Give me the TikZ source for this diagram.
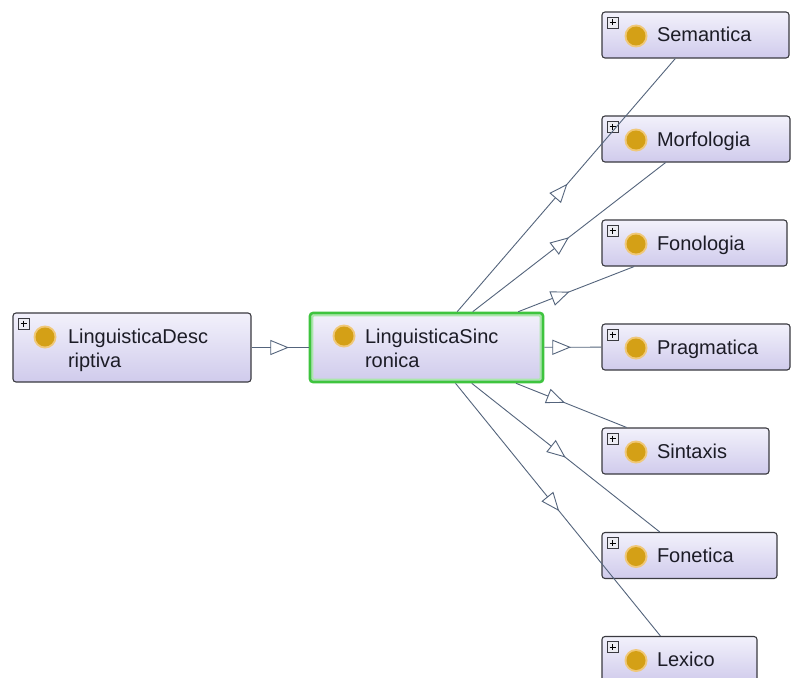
\documentclass[tikz,border=0pt]{standalone}
\usepackage{fontspec}
\setmainfont{Liberation Sans}
\usetikzlibrary{decorations.markings}

\definecolor{boxline}{RGB}{58,58,64}
\definecolor{boxtop}{RGB}{242,241,251}
\definecolor{boxbot}{RGB}{208,203,236}
\definecolor{focusline}{RGB}{62,196,62}
\definecolor{focusglow}{RGB}{170,232,170}
\definecolor{edgecol}{RGB}{84,100,124}
\definecolor{dotcore}{RGB}{212,160,22}
\definecolor{dotglow}{RGB}{240,200,120}
\definecolor{txt}{RGB}{28,28,38}
\definecolor{plusfill}{RGB}{236,236,242}

% single-line label, text begins 55pt from the left border
\newcommand\clsone[2]{\hbox to #1{\hskip55pt\raisebox{0pt}[14pt][0pt]{#2}\hfil}}
% two-line label, first baseline 4.5pt below the node centre
\newcommand\clstwo[3]{\hbox to #1{\hskip55pt\raisebox{0pt}[14pt][23pt]{\begin{tabular}[t]{@{}l@{}}#2\\#3\end{tabular}}\hfil}}

% the class icon: a gold disc with a soft rim
\newcommand\classdot[1]{%
  \fill[dotglow] #1 circle (11.5pt);
  \fill[dotcore] #1 circle (9.5pt);}
% the expand marker in the top left corner
\newcommand\plusmark{%
  \draw[boxline, fill=plusfill, line width=0.6pt, rounded corners=0pt]
    ([shift={(5pt,-5pt)}]path picture bounding box.north west) rectangle ++(11pt,-11pt);
  \draw[black, line width=1pt]
    ([shift={(7.5pt,-10.5pt)}]path picture bounding box.north west) -- ++(6pt,0pt)
    ([shift={(10.5pt,-7.5pt)}]path picture bounding box.north west) -- ++(0pt,-6pt);}

\tikzset{
  classbase/.style={rectangle, rounded corners=3pt, draw=boxline, line width=1.1pt,
    top color=boxtop, bottom color=boxbot, inner sep=0pt, text=txt,
    font=\fontsize{20}{24}\selectfont},
  leafbox/.style={classbase, minimum height=46pt,
    path picture={
      \classdot{([shift={(34pt,-1pt)}]path picture bounding box.west)}
      \plusmark}},
  parentbox/.style={classbase, minimum height=69pt,
    path picture={
      \classdot{([shift={(32pt,10.5pt)}]path picture bounding box.west)}
      \plusmark}},
  focusbox/.style={classbase, minimum height=69pt, draw=focusline, line width=2.6pt,
    path picture={
      \draw[focusglow, line width=2pt, rounded corners=2pt]
        ([shift={(2.3pt,-2.3pt)}]path picture bounding box.north west)
        rectangle ([shift={(-2.3pt,2.3pt)}]path picture bounding box.south east);
      \classdot{([shift={(34pt,11.5pt)}]path picture bounding box.west)}}},
  edge/.style={draw=edgecol, line width=0.9pt},
  subarrow/.style={decoration={markings, mark=at position 0.5 with {
      \draw[edgecol, line width=0.9pt, fill=white, line join=miter]
        (8.5pt,0pt) -- (-8.5pt,7pt) -- (-8.5pt,-7pt) -- cycle;}},
    decorate},
}

\begin{document}
\begin{tikzpicture}[x=1pt, y=-1pt]
  \clip (0,0) rectangle (792,677);
  \fill[white] (0,0) rectangle (792,677);

  % classes
  \node[parentbox] (desc) at (132,347.5)
    {\raisebox{-1pt}{\clstwo{238pt}{LinguisticaDesc}{riptiva}}};
  \node[focusbox] (sinc) at (426.5,347.5)
    {\raisebox{-1pt}{\clstwo{233pt}{LinguisticaSinc}{ronica}}};

  \node[leafbox] (sem)   at (695.5,35)   {\clsone{187pt}{Semantica}};
  \node[leafbox] (mor)   at (696,139)    {\clsone{188pt}{Morfologia}};
  \node[leafbox] (fonol) at (694.5,243)  {\clsone{185pt}{Fonologia}};
  \node[leafbox] (prag)  at (696,347)    {\clsone{188pt}{Pragmatica}};
  \node[leafbox] (sint)  at (685.5,451)  {\clsone{167pt}{Sintaxis}};
  \node[leafbox] (fonet) at (689.5,555.5){\clsone{175pt}{Fonetica}};
  \node[leafbox] (lex)   at (679.5,659.5){\clsone{155pt}{Lexico}};

  % subclass links
  \draw[edge] (desc) -- (sinc);
  \path[subarrow] (desc.center) -- (sinc.center);
  \foreach \c in {sem,mor,fonol,prag,sint,fonet,lex}{
    \draw[edge] (sinc) -- (\c);
    \path[subarrow] (sinc.center) -- (\c.center);
  }
\end{tikzpicture}
\end{document}
